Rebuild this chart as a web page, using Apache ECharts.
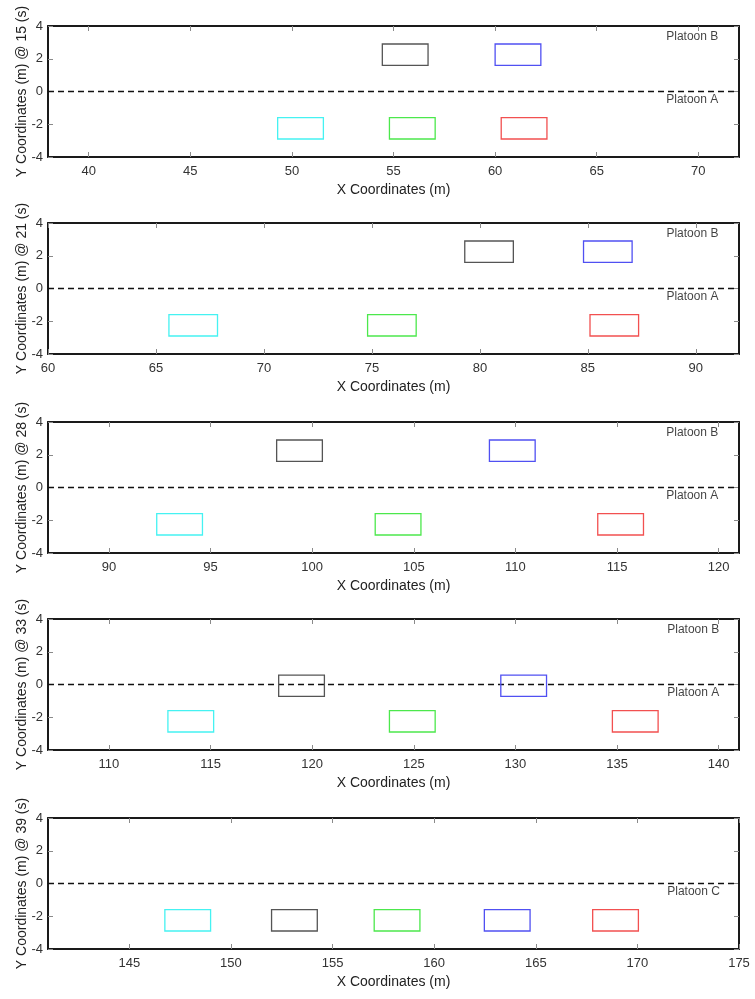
<!DOCTYPE html>
<html>
<head>
<meta charset="utf-8">
<style>html,body{margin:0;padding:0;background:#fff}#c{width:755px;height:999px}</style>
<script src="https://cdn.jsdelivr.net/npm/echarts@6/dist/echarts.min.js"></script>
</head>
<body>
<div id="c"></div>
<script>
// ---- data ----
const timeSteps = [15, 21, 28, 33, 39];
const xMin = [38, 60, 87, 107, 141];
const xMax = [72, 92, 121, 141, 175];
const xTicks = [
  [40, 45, 50, 55, 60, 65, 70],
  [60, 65, 70, 75, 80, 85, 90],
  [90, 95, 100, 105, 110, 115, 120],
  [110, 115, 120, 125, 130, 135, 140],
  [145, 150, 155, 160, 165, 170, 175]
];
const yTicks = [-4, -2, 0, 2, 4];
const vehLength = 2.25;
const vehWidth = 1.3;
// rear x of each vehicle per panel, and lane centre y
const cyanX  = [49.3, 65.6, 92.35, 112.9, 146.75];
const cyanY  = [-2.25, -2.25, -2.25, -2.25, -2.25];
const greenX = [54.8, 74.8, 103.1, 123.8, 157.05];
const greenY = [-2.25, -2.25, -2.25, -2.25, -2.25];
const redX   = [60.3, 85.1, 114.05, 134.77, 167.8];
const redY   = [-2.25, -2.25, -2.25, -2.25, -2.25];
const blackX = [54.45, 79.3, 98.25, 118.35, 152.0];
const blackY = [2.25, 2.25, 2.25, -0.08, -2.25];
const blueX  = [60.0, 84.8, 108.72, 129.28, 162.47];
const blueY  = [2.25, 2.25, 2.25, -0.08, -2.25];
// platoon annotations: [panel, name, x, y]
const platoonLabels = [
  [0, 'Platoon B', 68.42, 3.35], [0, 'Platoon A', 68.42, -0.53],
  [1, 'Platoon B', 88.64, 3.35], [1, 'Platoon A', 88.64, -0.53],
  [2, 'Platoon B', 117.42, 3.35], [2, 'Platoon A', 117.42, -0.53],
  [3, 'Platoon B', 137.47, 3.35], [3, 'Platoon A', 137.47, -0.53],
  [4, 'Platoon C', 171.47, -0.53]
];

// ---- styles ----
const FONT = 'Liberation Sans, Arial, Helvetica, sans-serif';
const vehicles = [
  { x: cyanX, y: cyanY, color: '#45f2f2' },
  { x: greenX, y: greenY, color: '#4ce84c' },
  { x: redX, y: redY, color: '#f25050' },
  { x: blackX, y: blackY, color: '#555555' },
  { x: blueX, y: blueY, color: '#5050f2' }
];
const tops = [26, 223, 422, 619, 818];
const gridH = 131;

const grid = [], xAxis = [], yAxis = [], series = [];
for (let p = 0; p < 5; p++) {
  grid.push({ left: 48, right: 16, top: tops[p], height: gridH, containLabel: false });
  const lineStyle = { color: '#1a1a1a', width: 2 };
  const tickStyle = { color: '#8a8a8a', width: 1 };
  // bottom x
  xAxis.push({
    type: 'value', gridIndex: p, min: xMin[p], max: xMax[p], position: 'bottom',
    name: 'X Coordinates (m)', nameLocation: 'middle', nameGap: 26,
    nameTextStyle: { fontFamily: FONT, fontSize: 14, color: '#222' },
    axisLine: { show: true, onZero: false, lineStyle },
    axisTick: { show: true, inside: true, length: 5, lineStyle: tickStyle, customValues: xTicks[p] },
    axisLabel: { show: true, margin: 8, fontFamily: FONT, fontSize: 13, color: '#333', customValues: xTicks[p], showMinLabel: true, showMaxLabel: true },
    splitLine: { show: false }
  });
  // top x (frame)
  xAxis.push({
    type: 'value', gridIndex: p, min: xMin[p], max: xMax[p], position: 'top',
    axisLine: { show: true, onZero: false, lineStyle },
    axisTick: { show: true, inside: true, length: 5, lineStyle: tickStyle, customValues: xTicks[p] },
    axisLabel: { show: false }, splitLine: { show: false }
  });
  yAxis.push({
    type: 'value', gridIndex: p, min: -4, max: 4, interval: 2, position: 'left',
    name: 'Y Coordinates (m) @ ' + timeSteps[p] + ' (s)', nameLocation: 'middle', nameGap: 19, nameRotate: 90,
    nameMoveOverlap: false,
    nameTextStyle: { fontFamily: FONT, fontSize: 14, color: '#222' },
    axisLine: { show: true, onZero: false, lineStyle },
    axisTick: { show: true, inside: true, length: 5, lineStyle: tickStyle },
    axisLabel: { show: true, margin: 5, fontFamily: FONT, fontSize: 13, color: '#333', customValues: yTicks },
    splitLine: { show: false }
  });
  yAxis.push({
    type: 'value', gridIndex: p, min: -4, max: 4, interval: 2, position: 'right',
    axisLine: { show: true, onZero: false, lineStyle },
    axisTick: { show: true, inside: true, length: 5, lineStyle: tickStyle },
    axisLabel: { show: false }, splitLine: { show: false }
  });
  const xi = 2 * p, yi = 2 * p;
  // lane divider
  series.push({
    type: 'line', xAxisIndex: xi, yAxisIndex: yi, silent: true, symbol: 'none',
    data: [[xMin[p], 0], [xMax[p], 0]],
    lineStyle: { color: '#111', width: 1.6, type: [6, 4] }, z: 3
  });
  // vehicles
  vehicles.forEach(v => {
    series.push({
      type: 'custom', xAxisIndex: xi, yAxisIndex: yi, silent: true, z: 4,
      data: [[v.x[p], v.y[p]]],
      renderItem: function (params, api) {
        const x0 = api.value(0), yc = api.value(1);
        const a = api.coord([x0, yc + vehWidth / 2]);
        const b = api.coord([x0 + vehLength, yc - vehWidth / 2]);
        return {
          type: 'rect',
          shape: { x: a[0], y: a[1], width: b[0] - a[0], height: b[1] - a[1] },
          style: { fill: 'none', stroke: v.color, lineWidth: 1.3 }
        };
      }
    });
  });
  // labels
  const lbls = platoonLabels.filter(l => l[0] === p).map(l => ({ name: l[1], value: [l[2], l[3]] }));
  series.push({
    type: 'scatter', xAxisIndex: xi, yAxisIndex: yi, silent: true, symbolSize: 0, z: 5,
    data: lbls,
    label: { show: true, position: 'right', distance: 0, formatter: '{b}', fontFamily: FONT, fontSize: 12, color: '#111' }
  });
}

const chart = echarts.init(document.getElementById('c'), null, { renderer: 'canvas' });
chart.setOption({ animation: false, backgroundColor: '#fff', grid, xAxis, yAxis, series });
</script>
</body>
</html>
